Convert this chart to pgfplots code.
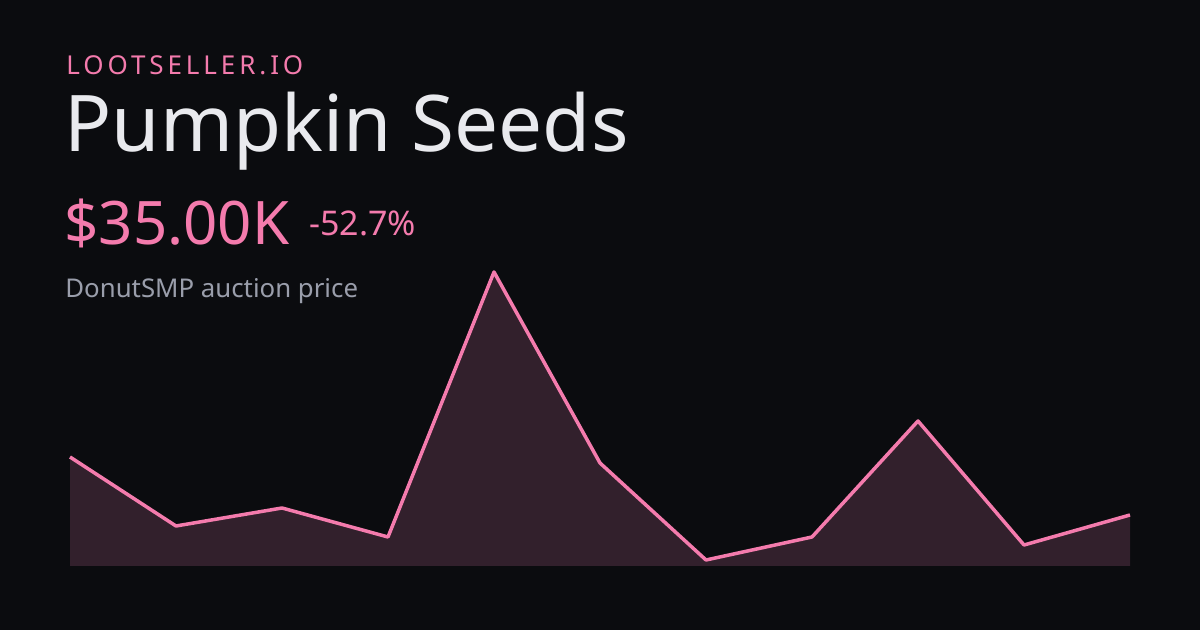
\documentclass[border=0pt]{standalone}
\usepackage{pgfplots}
\pgfplotsset{compat=1.18}
\usepackage{fontspec}
\setmainfont{Noto Sans}
\newfontfamily\spaced[LetterSpace=15]{Noto Sans}
\definecolor{bg}{HTML}{0B0C0F}
\definecolor{pink}{HTML}{F47BAD}
\definecolor{area}{HTML}{32202C}
\definecolor{titlecol}{HTML}{E9EAEE}
\definecolor{subcol}{HTML}{9A9EAB}

% price history, heights in px above the baseline
\pgfplotstableread{
x y
0 109
1 40
2 58
3 29
4 294
5 103
6 6
7 29
8 145
9 21
10 51
}\pricedata

\begin{document}
\begin{tikzpicture}
\fill[bg] (0pt,0pt) rectangle (600pt,315pt);
\node[anchor=base west,inner sep=0,text=pink,font=\fontsize{13}{13}\spaced] at (33pt,277.5pt) {LOOTSELLER.IO};
\node[anchor=base west,inner sep=0,text=titlecol,font=\fontsize{39.1}{39.1}\selectfont] at (32pt,239pt) {Pumpkin Seeds};
\node[anchor=base west,inner sep=0,text=pink,font=\fontsize{30}{30}\selectfont] at (32pt,192.5pt) {\$35.00K};
\node[anchor=base west,inner sep=0,text=pink,font=\fontsize{17}{17}\selectfont] at (154.5pt,197pt) {-52.7\%};
\node[anchor=base west,inner sep=0,text=subcol,font=\fontsize{12.9}{12.9}\selectfont] at (32.5pt,166pt) {DonutSMP auction price};
\begin{axis}[
    at={(35pt,32pt)}, anchor=origin,
    scale only axis,
    width=530pt, height=150pt,
    xmin=0, xmax=10, ymin=0, ymax=300,
    hide axis, clip=false,
]
\addplot[fill=area, draw=none] table[x=x,y=y] {\pricedata} \closedcycle;
\addplot[pink, line width=1.75pt, line join=round, mark=none] table[x=x,y=y] {\pricedata};
\end{axis}
\end{tikzpicture}
\end{document}
